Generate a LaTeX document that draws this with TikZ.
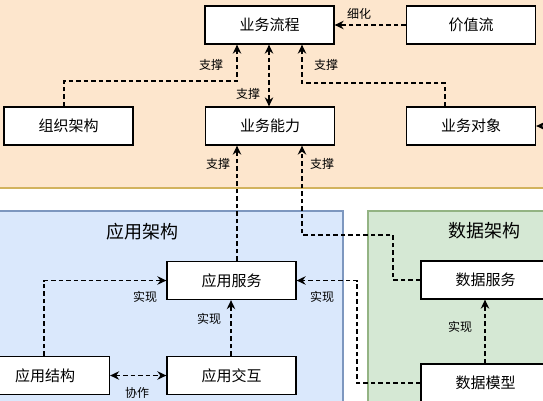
\documentclass[tikz,border=0pt]{standalone}
\usepackage{fontspec}
\setmainfont{Noto Sans CJK SC}
\usetikzlibrary{arrows.meta,calc}
\definecolor{orfill}{HTML}{FDE6CD}
\definecolor{orline}{HTML}{D2B35E}
\definecolor{blfill}{HTML}{DAE8FC}
\definecolor{blline}{HTML}{7D97BF}
\definecolor{grfill}{HTML}{D5E8D4}
\definecolor{grline}{HTML}{93B383}
\begin{document}
\begin{tikzpicture}[x=1pt,y=-1pt,
  box/.style={draw=black,fill=white,line width=1.3pt,minimum width=129pt,minimum height=38pt,inner sep=0pt,font=\fontsize{15}{15}\selectfont},
  lbl/.style={font=\fontsize{12}{12}\selectfont,inner sep=0pt},
  ttl/.style={font=\fontsize{18}{18}\selectfont,inner sep=0pt},
  flow/.style={line width=1.3pt,dash pattern=on 4.5pt off 3pt,-{Stealth[length=9pt,width=8.5pt,inset=3pt]}},
  both/.style={line width=1.3pt,dash pattern=on 4.5pt off 3pt,{Stealth[length=9pt,width=8.5pt,inset=3pt]}-{Stealth[length=9pt,width=8.5pt,inset=3pt]}}]
\useasboundingbox (0,0) rectangle (543,400);
\clip (0,0) rectangle (543,400);
\fill[white] (0,0) rectangle (543,400);
% containers
\filldraw[fill=orfill,draw=orline,line width=1.3pt] (-10,-10) rectangle (553,188);
\filldraw[fill=blfill,draw=blline,line width=1.3pt] (-10,211) rectangle (343,410);
\filldraw[fill=grfill,draw=grline,line width=1.3pt] (368,211) rectangle (553,410);
\node[ttl] (tapp) at (142,232) {应用架构};
\node[ttl] (tdata) at (484,231) {数据架构};
% boxes
\node[box] (proc) at (269.5,25) {业务流程};
\node[box] (vstream) at (471,25) {价值流};
\node[box] (org) at (68.5,126) {组织架构};
\node[box] (cap) at (270,126) {业务能力};
\node[box] (obj) at (471,126) {业务对象};
\node[box] (asvc) at (231.5,280.5) {应用服务};
\node[box] (astr) at (45,375.5) {应用结构};
\node[box] (aint) at (231.5,375.5) {应用交互};
\node[box] (dsvc) at (485.5,280) {数据服务};
\node[box] (dmod) at (485.5,383) {数据模型};
\coordinate (offr) at (570,126);
% connectors
\draw[flow] (vstream.west) -- (proc.east);
\draw[flow] ([xshift=-4.5pt]org.north) |- (150,81) -| ([xshift=-32.5pt]proc.south);
\draw[flow] ([xshift=-26pt]obj.north) |- (380,83) -| ([xshift=32.5pt]proc.south);
\draw[both] ([xshift=-0.5pt]proc.south) -- ([xshift=-1pt]cap.north);
\draw[flow] ([xshift=5.5pt]asvc.north) -- ([xshift=-33pt]cap.south);
\draw[flow] (dsvc.west) -| (393,235) -| ([xshift=32pt]cap.south);
\draw[flow] ([xshift=-1pt]astr.north) |- (asvc.west);
\draw[flow] ([xshift=-0.5pt]aint.north) -- ([xshift=-0.5pt]asvc.south);
\draw[both] (astr.east) -- (aint.west);
\draw[flow] (dmod.west) -| (357,330) |- (asvc.east);
\draw[flow] ([xshift=-0.5pt]dmod.north) -- ([xshift=-0.5pt]dsvc.south);
\draw[flow] (offr) -- (obj.east);
% labels
\node[lbl] (l1) at (359,14) {细化};
\node[lbl] (l2) at (211,65) {支撑};
\node[lbl] (l3) at (326,65) {支撑};
\node[lbl] (l4) at (248,94) {支撑};
\node[lbl] (l5) at (218,164) {支撑};
\node[lbl] (l6) at (322,164) {支撑};
\node[lbl] (l7) at (145,297) {实现};
\node[lbl] (l8) at (209,319) {实现};
\node[lbl] (l9) at (322,297) {实现};
\node[lbl] (l10) at (460,327) {实现};
\node[lbl] (l11) at (137,393) {协作};
\end{tikzpicture}
\end{document}
